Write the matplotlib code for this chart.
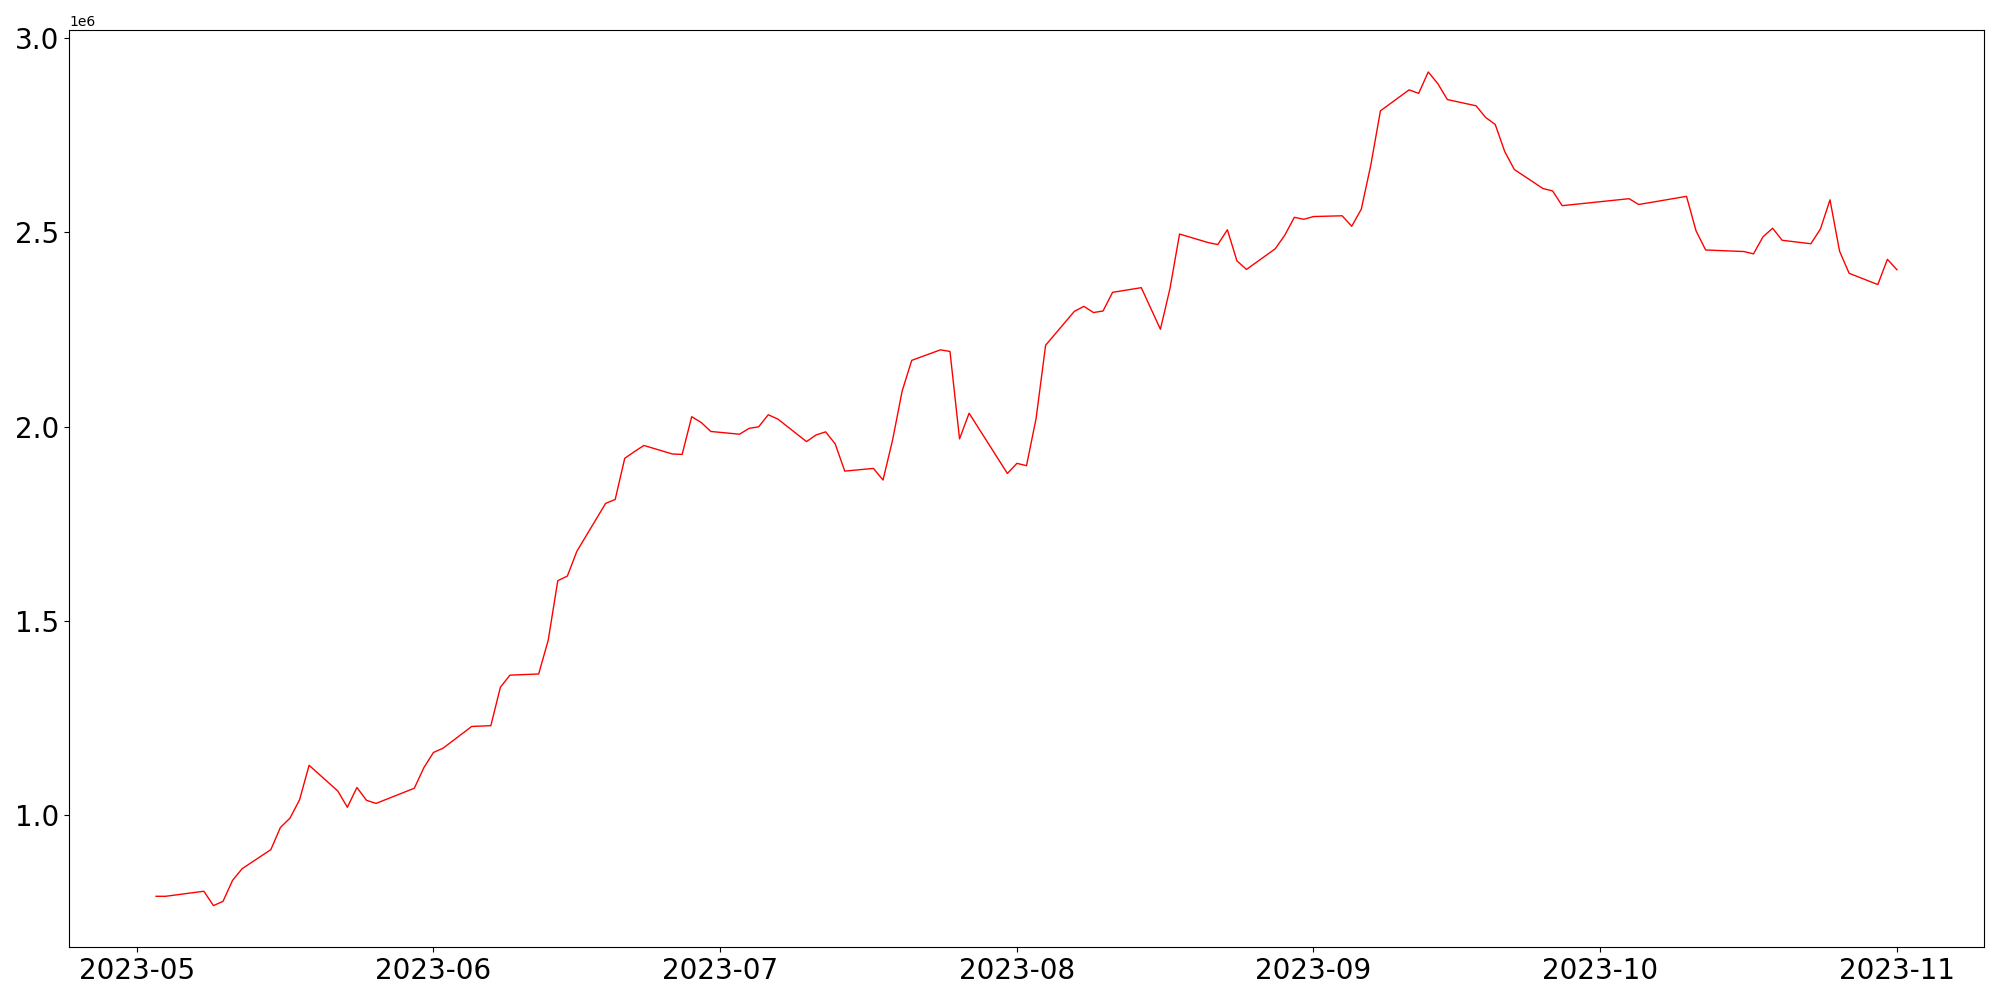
import matplotlib
matplotlib.use("Agg")
import matplotlib.pyplot as plt
import matplotlib.dates as mdates
import pandas as pd

# Daily values (units of 1e6 shown by the offset text)
dates = [
    "2023-05-03", "2023-05-04", "2023-05-08", "2023-05-09", "2023-05-10",
    "2023-05-11", "2023-05-12", "2023-05-15", "2023-05-16", "2023-05-17",
    "2023-05-18", "2023-05-19", "2023-05-22", "2023-05-23", "2023-05-24",
    "2023-05-25", "2023-05-26", "2023-05-30", "2023-05-31", "2023-06-01",
    "2023-06-02", "2023-06-05", "2023-06-07", "2023-06-08", "2023-06-09",
    "2023-06-12", "2023-06-13", "2023-06-14", "2023-06-15", "2023-06-16",
    "2023-06-19", "2023-06-20", "2023-06-21", "2023-06-22", "2023-06-23",
    "2023-06-26", "2023-06-27", "2023-06-28", "2023-06-29", "2023-06-30",
    "2023-07-03", "2023-07-04", "2023-07-05", "2023-07-06", "2023-07-07",
    "2023-07-10", "2023-07-11", "2023-07-12", "2023-07-13", "2023-07-14",
    "2023-07-17", "2023-07-18", "2023-07-19", "2023-07-20", "2023-07-21",
    "2023-07-24", "2023-07-25", "2023-07-26", "2023-07-27", "2023-07-31",
    "2023-08-01", "2023-08-02", "2023-08-03", "2023-08-04", "2023-08-07",
    "2023-08-08", "2023-08-09", "2023-08-10", "2023-08-11", "2023-08-14",
    "2023-08-16", "2023-08-17", "2023-08-18", "2023-08-21", "2023-08-22",
    "2023-08-23", "2023-08-24", "2023-08-25", "2023-08-28", "2023-08-29",
    "2023-08-30", "2023-08-31", "2023-09-01", "2023-09-04", "2023-09-05",
    "2023-09-06", "2023-09-07", "2023-09-08", "2023-09-11", "2023-09-12",
    "2023-09-13", "2023-09-14", "2023-09-15", "2023-09-18", "2023-09-19",
    "2023-09-20", "2023-09-21", "2023-09-22", "2023-09-25", "2023-09-26",
    "2023-09-27", "2023-10-04", "2023-10-05", "2023-10-10", "2023-10-11",
    "2023-10-12", "2023-10-16", "2023-10-17", "2023-10-18", "2023-10-19",
    "2023-10-20", "2023-10-23", "2023-10-24", "2023-10-25", "2023-10-26",
    "2023-10-27", "2023-10-30", "2023-10-31", "2023-11-01",
]

values = [
    792000, 792000, 805000, 768000, 779000,
    833000, 863000, 912000, 969000, 993000,
    1040000, 1129000, 1063000, 1021000, 1072000,
    1039000, 1031000, 1070000, 1123000, 1162000,
    1173000, 1229000, 1231000, 1330000, 1361000,
    1364000, 1451000, 1604000, 1616000, 1680000,
    1803000, 1813000, 1919000, 1936000, 1952000,
    1930000, 1929000, 2026000, 2011000, 1988000,
    1981000, 1996000, 2000000, 2031000, 2020000,
    1962000, 1979000, 1987000, 1956000, 1886000,
    1893000, 1863000, 1966000, 2092000, 2171000,
    2198000, 2194000, 1969000, 2035000, 1880000,
    1906000, 1900000, 2021000, 2210000, 2297000,
    2310000, 2294000, 2298000, 2346000, 2358000,
    2251000, 2356000, 2496000, 2474000, 2469000,
    2507000, 2427000, 2405000, 2458000, 2493000,
    2539000, 2534000, 2541000, 2543000, 2516000,
    2560000, 2674000, 2813000, 2867000, 2858000,
    2913000, 2883000, 2842000, 2826000, 2796000,
    2778000, 2708000, 2662000, 2613000, 2607000,
    2569000, 2587000, 2572000, 2593000, 2504000,
    2455000, 2451000, 2445000, 2489000, 2511000,
    2480000, 2471000, 2509000, 2584000, 2452000,
    2395000, 2366000, 2431000, 2404000,
]

x = pd.to_datetime(dates)

fig, ax = plt.subplots(figsize=(20, 10), dpi=100)
fig.subplots_adjust(left=0.0345, right=0.992, top=0.9697, bottom=0.0527)

ax.plot(x, values, color="red", lw=1.0)

ax.xaxis.set_major_locator(mdates.MonthLocator())
ax.xaxis.set_major_formatter(mdates.DateFormatter("%Y-%m"))
ax.tick_params(axis="both", labelsize=20)

fig.savefig("out.png")
